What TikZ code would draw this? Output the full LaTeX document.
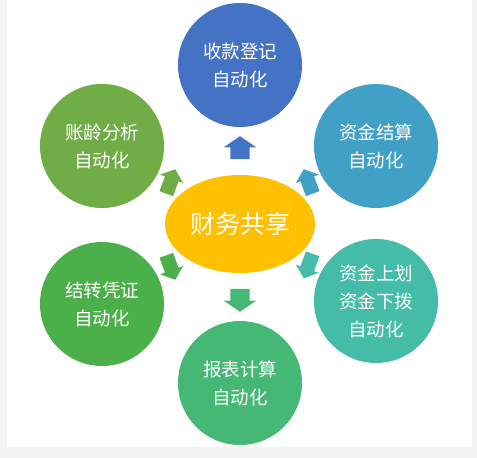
\documentclass[tikz,border=0pt]{standalone}
\usepackage{fontspec}
\setmainfont{Noto Sans CJK SC}
\usetikzlibrary{shapes.geometric,shapes.arrows,calc}
\definecolor{bgGray}{HTML}{F3F3F3}
\definecolor{cBlue}{HTML}{4472C4}
\definecolor{cTeal}{HTML}{41A0C5}
\definecolor{cMint}{HTML}{44BCA7}
\definecolor{cGreen}{HTML}{46B876}
\definecolor{cLeaf}{HTML}{4BAF4A}
\definecolor{cOlive}{HTML}{70AD47}
\definecolor{cGold}{HTML}{FFC000}
\begin{document}
\begin{tikzpicture}[x=1pt,y=1pt,font=\fontsize{18.5}{28}\selectfont]
      \tikzset{ball/.style={circle, minimum size=124pt, inner sep=0pt, text=white, align=center},
        bigarr/.style={single arrow, inner xsep=0pt, inner ysep=9.5pt, minimum height=23pt, single arrow head extend=6.5pt, single arrow tip angle=111},
        smallarr/.style={single arrow, inner xsep=0pt, inner ysep=7pt, minimum height=26pt, single arrow head extend=5pt, single arrow tip angle=100}}
      \fill[bgGray] (0,0) rectangle (477,458);
      \fill[white] (7,11) rectangle (472,458);
      \node[ball, fill=cBlue] (dj) at (240,393) {收款登记\\自动化};
      \node[ball, fill=cTeal] (js) at (376,312) {资金结算\\自动化};
      \node[ball, fill=cMint] (hb) at (376,157) {资金上划\\资金下拨\\自动化};
      \node[ball, fill=cGreen] (bb) at (240,75) {报表计算\\自动化};
      \node[ball, fill=cLeaf] (pz) at (102,154) {结转凭证\\自动化};
      \node[ball, fill=cOlive] (zl) at (102,312) {账龄分析\\自动化};
      \node[ellipse, fill=cGold, minimum width=150pt, minimum height=98pt, inner sep=0pt, text=white, font=\fontsize{25}{30}\selectfont] (hub) at (240,234) {财务共享};
      \node[bigarr, fill=cBlue, rotate=90] (a1) at ($(hub.north)!0.5!(dj.south)$) {};
      \node[smallarr, fill=cTeal, rotate=110] (a2) at ($(hub.30)!0.5!(js.210)$) {};
      \node[smallarr, fill=cMint, rotate=250] (a3) at ($(hub.-30)!0.5!(hb.150)$) {};
      \node[bigarr, fill=cGreen, rotate=-90] (a4) at ($(hub.south)!0.5!(bb.north)$) {};
      \node[smallarr, fill=cLeaf, rotate=290] (a5) at ($(hub.210)!0.5!(pz.30)$) {};
      \node[smallarr, fill=cOlive, rotate=70] (a6) at ($(hub.150)!0.5!(zl.-30)$) {};
    \end{tikzpicture}
\end{document}
